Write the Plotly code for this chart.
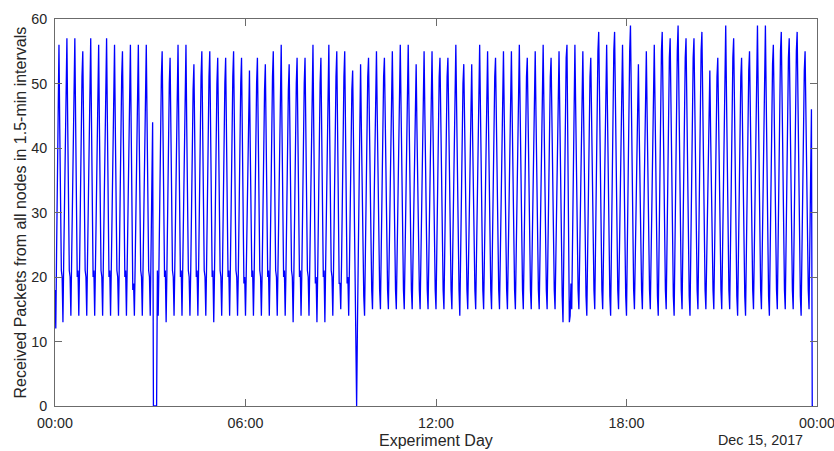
import pandas as pd
import plotly.graph_objects as go

# Received packets per 1.5-min interval, 10 samples (15 min) per row
block_00_06 = [
    [18, 12, 24, 38, 50, 56, 43, 29, 21, 20],
    [13, 23, 34, 45, 53, 57, 44, 30, 21, 20],
    [14, 23, 34, 45, 53, 57, 44, 30, 20, 21],
    [14, 22, 33, 43, 51, 55, 42, 29, 21, 20],
    [14, 23, 34, 45, 53, 57, 44, 30, 20, 21],
    [14, 22, 33, 44, 52, 56, 43, 29, 21, 20],
    [14, 23, 34, 45, 53, 57, 44, 30, 20, 21],
    [14, 22, 33, 44, 52, 56, 43, 29, 21, 20],
    [14, 22, 33, 43, 51, 55, 42, 29, 20, 21],
    [14, 22, 33, 44, 52, 56, 43, 29, 18, 19],
    [14, 22, 33, 44, 52, 56, 43, 30, 21, 20],
    [14, 22, 33, 44, 52, 56, 44, 32, 21, 20],
    [14, 24, 34, 44, 0, 0, 0, 0, 0, 21],
    [14, 22, 33, 43, 51, 55, 42, 29, 20, 21],
    [13, 21, 32, 42, 50, 54, 41, 28, 21, 20],
    [14, 22, 33, 44, 52, 56, 43, 29, 20, 21],
    [14, 22, 33, 44, 52, 56, 43, 29, 21, 20],
    [14, 21, 32, 42, 49, 53, 41, 28, 20, 21],
    [14, 22, 33, 43, 51, 55, 42, 29, 21, 20],
    [14, 22, 33, 43, 51, 55, 42, 29, 20, 21],
    [13, 21, 32, 42, 50, 54, 41, 28, 21, 20],
    [14, 21, 32, 42, 50, 54, 41, 28, 20, 21],
    [14, 22, 33, 43, 51, 55, 42, 29, 21, 20],
    [14, 21, 32, 42, 50, 54, 41, 28, 19, 20],
]

block_06_12 = [
    [14, 21, 31, 41, 48, 52, 40, 28, 20, 21],
    [14, 21, 32, 42, 50, 54, 41, 28, 21, 20],
    [14, 21, 32, 42, 49, 53, 41, 28, 20, 21],
    [14, 22, 33, 43, 51, 55, 42, 29, 21, 20],
    [14, 22, 33, 44, 52, 56, 43, 29, 20, 21],
    [14, 21, 32, 42, 49, 53, 41, 28, 21, 20],
    [13, 21, 32, 42, 50, 54, 41, 28, 20, 21],
    [14, 21, 32, 42, 50, 54, 41, 28, 21, 20],
    [14, 22, 33, 44, 52, 56, 43, 29, 19, 20],
    [13, 21, 32, 42, 50, 54, 41, 28, 20, 21],
    [13, 22, 33, 44, 52, 56, 43, 29, 21, 20],
    [14, 22, 33, 43, 51, 55, 42, 29, 19, 19],
    [15, 22, 33, 43, 51, 55, 42, 29, 19, 20],
    [14, 22, 32, 42, 49, 52, 40, 27, 14, 7],
    [0, 12, 25, 38, 48, 53, 43, 32, 22, 17],
    [14, 24, 35, 45, 51, 54, 44, 33, 24, 18],
    [15, 24, 35, 45, 52, 55, 45, 34, 24, 18],
    [15, 24, 35, 45, 51, 54, 44, 33, 24, 18],
    [15, 24, 35, 45, 52, 55, 45, 34, 24, 18],
    [15, 24, 36, 46, 53, 56, 46, 35, 25, 18],
    [15, 24, 36, 46, 53, 56, 46, 35, 25, 18],
    [15, 23, 34, 44, 50, 53, 43, 33, 23, 18],
    [15, 24, 35, 45, 52, 55, 45, 34, 24, 18],
    [15, 24, 35, 45, 52, 55, 45, 34, 24, 18],
]

block_12_18 = [
    [15, 24, 35, 45, 51, 54, 44, 33, 24, 18],
    [15, 24, 35, 45, 51, 54, 44, 33, 24, 18],
    [15, 24, 36, 46, 53, 56, 46, 35, 25, 18],
    [14, 23, 34, 44, 50, 53, 43, 33, 23, 18],
    [15, 23, 34, 44, 50, 53, 43, 33, 23, 18],
    [15, 24, 36, 46, 53, 56, 46, 35, 25, 18],
    [15, 24, 35, 45, 52, 55, 45, 34, 24, 18],
    [15, 24, 35, 45, 51, 54, 44, 33, 24, 18],
    [15, 24, 35, 45, 52, 55, 45, 34, 24, 18],
    [15, 24, 35, 45, 52, 55, 45, 34, 24, 18],
    [15, 24, 36, 46, 53, 56, 46, 35, 25, 18],
    [15, 24, 35, 45, 51, 54, 44, 33, 24, 18],
    [15, 24, 35, 45, 52, 55, 45, 34, 24, 18],
    [15, 24, 36, 46, 53, 56, 46, 35, 25, 18],
    [15, 24, 35, 45, 51, 54, 44, 33, 24, 18],
    [15, 24, 35, 45, 52, 55, 45, 34, 24, 17],
    [13, 24, 36, 47, 54, 56, 40, 24, 13, 14],
    [19, 15, 28, 41, 51, 56, 46, 35, 25, 18],
    [15, 24, 35, 45, 52, 55, 45, 34, 24, 17],
    [14, 24, 35, 45, 51, 54, 44, 33, 24, 18],
    [15, 25, 37, 48, 55, 58, 47, 36, 25, 18],
    [15, 24, 36, 46, 53, 56, 46, 35, 25, 17],
    [14, 25, 37, 48, 55, 58, 47, 36, 25, 18],
    [15, 24, 36, 46, 53, 56, 46, 35, 25, 17],
]

block_18_24 = [
    [14, 25, 37, 48, 55, 59, 48, 36, 26, 18],
    [15, 23, 34, 44, 50, 53, 43, 33, 23, 18],
    [15, 24, 35, 45, 52, 55, 45, 34, 24, 18],
    [15, 24, 36, 46, 53, 56, 46, 35, 25, 17],
    [14, 25, 37, 48, 55, 58, 47, 36, 25, 18],
    [15, 25, 36, 47, 54, 57, 46, 35, 25, 17],
    [14, 25, 37, 48, 55, 59, 48, 36, 26, 18],
    [15, 25, 36, 47, 54, 57, 46, 35, 25, 17],
    [14, 25, 36, 47, 54, 57, 46, 35, 25, 18],
    [15, 25, 37, 48, 55, 58, 47, 36, 25, 18],
    [15, 23, 33, 43, 49, 52, 42, 32, 23, 18],
    [15, 24, 35, 45, 51, 54, 44, 33, 24, 18],
    [15, 25, 37, 48, 55, 59, 48, 36, 26, 18],
    [15, 25, 36, 47, 54, 57, 46, 35, 25, 17],
    [14, 24, 35, 45, 51, 54, 44, 33, 24, 17],
    [14, 24, 35, 45, 52, 55, 45, 34, 24, 18],
    [15, 25, 37, 48, 55, 59, 48, 36, 26, 18],
    [15, 25, 37, 48, 55, 59, 48, 36, 26, 17],
    [14, 24, 36, 46, 53, 56, 46, 35, 25, 18],
    [15, 25, 37, 48, 55, 58, 47, 36, 25, 18],
    [15, 25, 36, 47, 54, 57, 46, 35, 25, 18],
    [15, 25, 37, 48, 55, 58, 47, 36, 25, 17],
    [14, 24, 35, 45, 52, 55, 45, 34, 24, 18],
    [15, 26, 37, 46, 0, 0],
]

x_tick_times = ["2017-12-14 00:00", "2017-12-14 06:00", "2017-12-14 12:00",
                "2017-12-14 18:00", "2017-12-15 00:00"]
x_tick_labels = ["00:00", "06:00", "12:00", "18:00", "00:00"]
y_tick_values = [0, 10, 20, 30, 40, 50, 60]
date_label = "Dec 15, 2017"
x_title = "Experiment Day"
y_title = "Received Packets from all nodes in 1.5-min intervals"

values = [v for block in (block_00_06, block_06_12, block_12_18, block_18_24)
          for row in block for v in row]
times = pd.date_range("2017-12-14 00:00", periods=len(values), freq="90s")

FONT = "Liberation Sans, Arial, Helvetica, sans-serif"
TXT = "#262626"
AXC = "#6b6b6b"

fig = go.Figure()
fig.add_trace(go.Scatter(x=times, y=values, mode="lines",
                         line=dict(color="#0000FF", width=1.3),
                         showlegend=False, hoverinfo="skip"))

fig.update_layout(
    width=834, height=451,
    margin=dict(l=55, r=17, t=19, b=45, autoexpand=False),
    paper_bgcolor="white", plot_bgcolor="white",
    font=dict(family=FONT, color=TXT, size=14.3),
    showlegend=False,
    xaxis=dict(
        type="date",
        range=[x_tick_times[0], x_tick_times[-1]],
        tickmode="array", tickvals=x_tick_times, ticktext=x_tick_labels,
        ticks="inside", ticklen=7, tickwidth=1, tickcolor=AXC,
        showline=True, linecolor=AXC, linewidth=1, mirror="ticks",
        showgrid=False, zeroline=False, automargin=False,
        tickfont=dict(family=FONT, size=14.3, color=TXT),
        ticklabelstandoff=4, ticklabeloverflow="allow",
    ),
    yaxis=dict(
        range=[0, 60],
        tickmode="array", tickvals=y_tick_values,
        ticks="inside", ticklen=7, tickwidth=1, tickcolor=AXC,
        showline=True, linecolor=AXC, linewidth=1, mirror="ticks",
        showgrid=False, zeroline=False, automargin=False,
        tickfont=dict(family=FONT, size=14.3, color=TXT),
        ticklabelstandoff=4,
    ),
    annotations=[
        dict(text=x_title, xref="paper", yref="paper", x=0.5, y=0,
             xanchor="center", yanchor="middle", yshift=-34, showarrow=False,
             font=dict(family=FONT, size=16, color=TXT)),
        dict(text=date_label, xref="paper", yref="paper", x=1, y=0,
             xanchor="right", yanchor="middle", xshift=-12, yshift=-34,
             showarrow=False, font=dict(family=FONT, size=14.3, color=TXT)),
        dict(text=y_title, xref="paper", yref="paper", x=0, y=0.5,
             xanchor="center", yanchor="middle", xshift=-35, textangle=-90,
             showarrow=False, font=dict(family=FONT, size=16, color=TXT)),
    ],
)

fig.write_html(
    "out.html",
    config={"displayModeBar": False, "staticPlot": True},
    post_script="document.body.style.margin='0';document.body.style.padding='0';"
                "document.body.style.overflow='hidden';",
)
